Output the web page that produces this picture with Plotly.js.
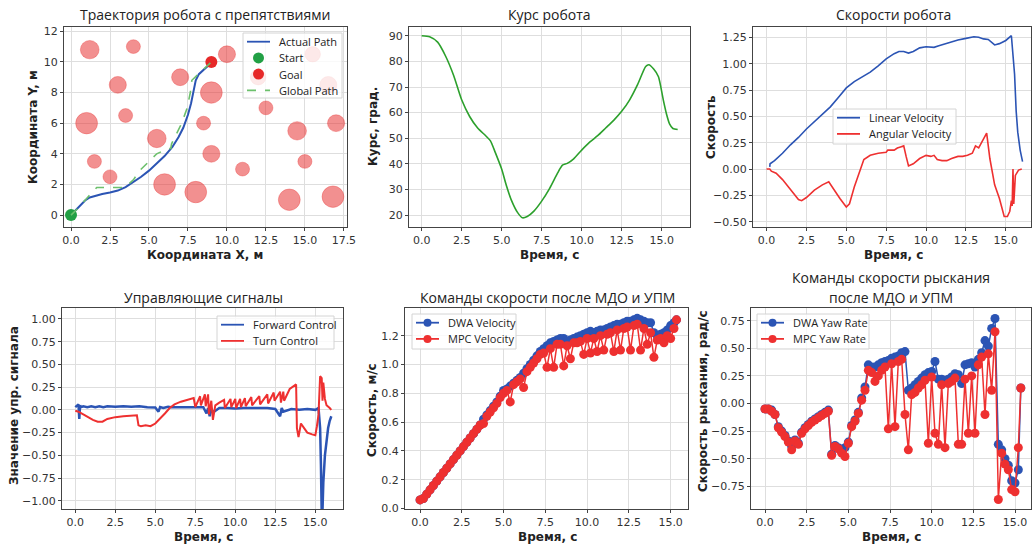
<!DOCTYPE html>
<html><head><meta charset="utf-8">
<script src="https://cdn.plot.ly/plotly-3.0.1.min.js"></script>
<style>html,body{margin:0;padding:0;background:#fff}#chart{width:1033px;height:546px}</style>
</head><body><div id="chart"></div>
<script>
// ---------- Panel 1: trajectory ----------
const obsX = [1.2, 4.0, 3.0, 3.5, 1.0, 1.5, 2.5, 5.5, 6.0, 7.0, 8.0, 9.0, 8.5, 9.0, 10.0, 11.0, 12.0, 12.5, 14.5, 15.0, 14.0, 15.5, 16.5, 17.0, 16.8];
const obsY = [10.8, 11.0, 8.5, 6.5, 6.0, 3.5, 2.5, 5.0, 2.0, 9.0, 1.5, 8.0, 6.0, 4.0, 10.5, 3.0, 9.0, 7.0, 5.5, 3.5, 1.0, 10.5, 8.5, 6.0, 1.2];
const obsR = [0.6, 0.45, 0.55, 0.45, 0.7, 0.45, 0.45, 0.6, 0.7, 0.55, 0.7, 0.7, 0.45, 0.55, 0.55, 0.45, 0.5, 0.45, 0.6, 0.45, 0.7, 0.5, 0.55, 0.55, 0.7];
const pathX = [0, 0.3, 0.6, 0.9, 1.2, 1.6, 2.0, 2.5, 3.0, 3.5, 4.0, 4.5, 5.0, 5.5, 6.0, 6.5, 6.9, 7.2, 7.5, 7.7, 7.85, 8.0, 8.2, 8.5, 8.8, 9.0];
const pathY = [0, 0.3, 0.65, 0.95, 1.15, 1.27, 1.37, 1.47, 1.6, 1.82, 2.15, 2.5, 2.9, 3.35, 3.85, 4.45, 5.1, 5.7, 6.55, 7.3, 8.1, 8.8, 9.2, 9.5, 9.75, 9.95];
const globX = [0, 0.5, 1.1, 1.65, 2.0, 2.7, 3.45, 4.0, 4.4, 5.0, 5.5, 6.25, 6.4, 6.45, 7.1, 7.45, 7.65, 7.75, 8.1, 8.5, 9.0];
const globY = [0, 0.5, 1.2, 1.8, 1.8, 1.8, 1.8, 2.3, 2.9, 3.5, 4.0, 4.35, 4.35, 4.65, 6.0, 7.0, 8.0, 8.8, 9.15, 9.55, 10.0];
const startXY = [0, 0];
const goalXY = [9, 10];

// ---------- Panel 2: heading ----------
const tHead = [0, 0.5, 1, 1.5, 2, 2.5, 3, 3.5, 4, 4.3, 4.6, 5, 5.3, 5.6, 6, 6.3, 6.6, 7, 7.5, 8, 8.5, 8.8, 9.1, 9.5, 10, 10.5, 11, 11.5, 12, 12.5, 13, 13.5, 14, 14.2, 14.5, 14.8, 15.1, 15.3, 15.5, 15.7, 16];
const heading = [90, 89.6, 87.5, 82, 74.5, 65, 58.5, 54, 51, 49, 44.5, 38, 31.5, 26, 21, 19, 19.5, 21.5, 25.5, 30.5, 36.5, 39.5, 40.2, 42, 45.4, 48.5, 51, 54, 57, 60.5, 65, 71, 78, 78.7, 77, 74, 65, 59.5, 55.5, 53.8, 53.4];

// ---------- Panel 3: velocities ----------
const tLin = [0.2, 0.22, 0.5, 1, 1.5, 2, 2.5, 3, 3.5, 4, 4.5, 5, 5.5, 6, 6.5, 7, 7.5, 8, 8.3, 8.6, 8.9, 9.2, 9.6, 10, 10.5, 10.8, 11.2, 11.6, 12, 12.5, 13, 13.3, 13.6, 13.9, 14.1, 14.3, 14.6, 15, 15.35, 15.45, 15.55, 15.65, 15.75, 15.9, 16.05];
const linVel = [0.02, 0.05, 0.08, 0.15, 0.23, 0.3, 0.38, 0.45, 0.52, 0.59, 0.68, 0.77, 0.83, 0.875, 0.92, 0.98, 1.045, 1.095, 1.115, 1.115, 1.1, 1.115, 1.15, 1.16, 1.155, 1.17, 1.19, 1.21, 1.225, 1.24, 1.255, 1.25, 1.235, 1.23, 1.2, 1.178, 1.19, 1.22, 1.265, 1.1, 0.9, 0.55, 0.35, 0.18, 0.07];
const tAng = [0, 0.2, 0.3, 0.6, 1, 1.5, 2, 2.2, 2.5, 3, 3.5, 3.9, 4.2, 4.6, 5, 5.2, 5.5, 5.8, 6.1, 6.5, 7, 7.5, 7.6, 8, 8.2, 8.4, 8.6, 8.75, 8.9, 9.2, 9.6, 10, 10.3, 10.5, 10.7, 11, 11.3, 11.6, 12, 12.3, 12.6, 12.9, 13.1, 13.3, 13.6, 13.8, 14, 14.3, 14.6, 14.9, 15.1, 15.25, 15.35, 15.4, 15.45, 15.5, 15.55, 15.6, 15.8, 16];
const angVel = [0, 0, -0.02, -0.04, -0.1, -0.2, -0.29, -0.3, -0.27, -0.2, -0.15, -0.12, -0.19, -0.28, -0.36, -0.33, -0.17, -0.03, 0.09, 0.13, 0.15, 0.16, 0.18, 0.18, 0.2, 0.21, 0.22, 0.12, 0.03, 0.05, 0.1, 0.13, 0.12, 0.13, 0.09, 0.08, 0.08, 0.1, 0.12, 0.12, 0.13, 0.15, 0.22, 0.2, 0.28, 0.34, 0.1, -0.15, -0.28, -0.45, -0.45, -0.4, -0.3, -0.35, 0.0, -0.33, -0.2, -0.06, -0.01, 0.0];

// ---------- Panel 4: control signals ----------
const tFwd = [0, 0.1, 0.2, 0.25, 0.3, 0.35, 0.5, 0.75, 1, 1.25, 1.5, 1.75, 2, 2.5, 3, 3.5, 4, 4.5, 5, 5.2, 5.3, 5.5, 5.8, 6, 6.5, 7, 7.5, 8, 8.2, 8.3, 8.4, 8.5, 8.6, 9, 9.5, 10, 10.5, 11, 11.5, 12, 12.5, 12.8, 12.9, 13, 13.5, 14, 14.5, 15, 15.2, 15.3, 15.35, 15.4, 15.45, 15.5, 15.6, 15.7, 15.8, 15.9, 16.0];
const fwdCtrl = [0.03, 0.05, 0.06, -0.1, 0.05, 0.03, 0.04, 0.03, 0.04, 0.03, 0.04, 0.03, 0.04, 0.035, 0.04, 0.035, 0.04, 0.03, 0.025, -0.02, 0.03, 0.02, 0.035, 0.03, 0.03, 0.035, 0.03, 0.03, -0.04, 0.02, -0.07, 0.02, -0.03, 0.02, 0.02, 0.015, 0.02, 0.02, 0.015, 0.02, 0.01, -0.07, 0.02, -0.02, 0.01, 0.0, 0.01, 0.0, 0.02, -0.2, -0.6, -1.15, -1.1, -0.8, -0.5, -0.32, -0.2, -0.12, -0.07];
const tTurn = [0, 0.2, 0.5, 0.8, 1.1, 1.4, 1.7, 2.0, 2.5, 3.0, 3.5, 3.85, 3.95, 4.1, 4.4, 4.7, 5.0, 5.3, 5.6, 5.9, 6.2, 6.6, 7.0, 7.4, 7.5, 7.8, 7.85, 8.1, 8.15, 8.3, 8.35, 8.5, 8.6, 8.75, 9.0, 9.3, 9.35, 9.7, 9.75, 10.0, 10.05, 10.3, 10.35, 10.6, 10.65, 11.0, 11.05, 11.5, 11.55, 12.0, 12.05, 12.4, 12.45, 12.8, 12.85, 13.0, 13.05, 13.4, 13.8, 13.85, 13.95, 14.1, 14.3, 14.5, 14.8, 15.0, 15.1, 15.2, 15.3, 15.4, 15.45, 15.5, 15.6, 15.7, 15.9, 16.0];
const turnCtrl = [-0.01, -0.02, -0.05, -0.08, -0.11, -0.13, -0.13, -0.1, -0.08, -0.07, -0.06, -0.06, -0.17, -0.18, -0.17, -0.18, -0.15, -0.1, -0.04, 0.02, 0.06, 0.09, 0.11, 0.13, 0.03, 0.15, 0.05, 0.17, 0.04, 0.17, -0.05, 0.1, -0.11, 0.05, 0.08, 0.11, 0.02, 0.12, 0.03, 0.12, 0.02, 0.12, 0.03, 0.13, 0.04, 0.14, 0.05, 0.15, 0.06, 0.17, 0.07, 0.19, 0.1, 0.2, 0.08, 0.2, 0.1, 0.23, 0.28, -0.2, -0.3, -0.15, -0.2, -0.25, -0.27, -0.28, -0.18, -0.05, 0.37, 0.35, 0.1, 0.3, 0.12, 0.05, 0.02, 0.0];

// ---------- Panels 5 & 6: commands ----------
const tCmd = [0, 0.2, 0.4, 0.6, 0.8, 1.0, 1.2, 1.4, 1.6, 1.8, 2.0, 2.2, 2.4, 2.6, 2.8, 3.0, 3.2, 3.4, 3.6, 3.8, 4.0, 4.2, 4.4, 4.6, 4.8, 5.0, 5.2, 5.4, 5.6, 5.8, 6.0, 6.2, 6.4, 6.6, 6.8, 7.0, 7.2, 7.4, 7.6, 7.8, 8.0, 8.2, 8.4, 8.6, 8.8, 9.0, 9.2, 9.4, 9.6, 9.8, 10.0, 10.2, 10.4, 10.6, 10.8, 11.0, 11.2, 11.4, 11.6, 11.8, 12.0, 12.2, 12.4, 12.6, 12.8, 13.0, 13.2, 13.4, 13.6, 13.8, 14.0, 14.2, 14.4, 14.6, 14.8, 15.0, 15.2, 15.35];
const dwaVel = [0.06, 0.07, 0.1, 0.13, 0.16, 0.19, 0.22, 0.25, 0.28, 0.31, 0.34, 0.37, 0.40, 0.43, 0.46, 0.49, 0.52, 0.55, 0.58, 0.62, 0.65, 0.68, 0.71, 0.74, 0.78, 0.82, 0.83, 0.85, 0.87, 0.89, 0.91, 0.94, 0.97, 1.0, 1.03, 1.06, 1.09, 1.11, 1.13, 1.15, 1.16, 1.17, 1.18, 1.18, 1.16, 1.17, 1.18, 1.19, 1.2, 1.21, 1.22, 1.23, 1.22, 1.23, 1.24, 1.24, 1.25, 1.26, 1.27, 1.28, 1.28, 1.29, 1.3, 1.3, 1.31, 1.32, 1.31, 1.3, 1.29, 1.29, 1.22, 1.2, 1.21, 1.22, 1.24, 1.27, 1.29, 1.31];
const mpcVel = [0.06, 0.07, 0.1, 0.13, 0.16, 0.19, 0.22, 0.25, 0.28, 0.31, 0.34, 0.37, 0.40, 0.43, 0.46, 0.49, 0.52, 0.55, 0.58, 0.59, 0.64, 0.67, 0.70, 0.73, 0.77, 0.80, 0.82, 0.74, 0.86, 0.88, 0.90, 0.84, 0.95, 0.98, 1.01, 1.04, 1.07, 1.08, 0.98, 1.11, 0.98, 1.14, 1.14, 0.99, 1.13, 1.04, 1.15, 1.15, 1.16, 1.07, 1.18, 1.08, 1.18, 1.09, 1.2, 1.1, 1.21, 1.22, 1.09, 1.24, 1.1, 1.25, 1.26, 1.1, 1.27, 1.28, 1.1, 1.25, 1.14, 1.22, 1.05, 1.17, 1.18, 1.15, 1.2, 1.18, 1.25, 1.31];
const dwaYaw = [-0.05, -0.05, -0.06, -0.1, -0.21, -0.25, -0.29, -0.34, -0.39, -0.33, -0.36, -0.26, -0.22, -0.19, -0.16, -0.14, -0.12, -0.1, -0.08, -0.06, -0.46, -0.38, -0.4, -0.43, -0.4, -0.35, -0.2, -0.15, -0.08, 0.05, 0.15, 0.35, 0.33, 0.33, 0.35, 0.37, 0.38, 0.39, 0.41, 0.42, 0.43, 0.46, 0.47, 0.12, 0.14, 0.17, 0.2, 0.23, 0.26, 0.28, 0.29, 0.38, 0.22, 0.22, 0.21, 0.22, 0.24, 0.27, 0.26, 0.18, 0.35, 0.36, 0.37, 0.33, 0.4, 0.46, 0.57, 0.52, 0.68, 0.77, -0.37, -0.42, -0.5, -0.56, -0.7, -0.72, -0.6, 0.14];
const mpcYaw = [-0.05, -0.05, -0.07, -0.1, -0.22, -0.26, -0.3, -0.35, -0.42, -0.34, -0.37, -0.27, -0.23, -0.2, -0.17, -0.15, -0.13, -0.11, -0.09, -0.07, -0.47, -0.39, -0.41, -0.45, -0.48, -0.36, -0.21, -0.16, -0.09, 0.03, 0.12, 0.3, 0.28, 0.2, 0.25, 0.3, 0.33, -0.23, 0.36, -0.21, 0.38, 0.4, -0.1, -0.42, 0.08, 0.1, 0.14, 0.17, 0.21, -0.36, 0.24, -0.27, -0.37, 0.17, -0.4, 0.18, 0.2, 0.23, -0.37, -0.37, 0.22, -0.27, 0.25, -0.27, 0.35, 0.42, -0.1, 0.45, 0.12, 0.65, -0.87, -0.45, -0.55, -0.6, -0.78, -0.8, -0.4, 0.14];

// ---------- styling ----------
const BLUE = '#2b54b4', RED = '#ee3030', GREEN = '#2ca02c';
const FONT = 'DejaVu Sans', TFONT = 'Open Sans';
const W = 1033, H = 546;
const px = v => v / W, py = v => 1 - v / H;

function axis(dom, range, dtick, fmt, anchor) {
  return {
    domain: dom, range: range, dtick: dtick, tick0: 0, tickformat: fmt, anchor: anchor,
    showline: true, mirror: true, linecolor: '#444', linewidth: 1,
    ticks: 'outside', ticklen: 3, tickcolor: '#444',
    showgrid: true, gridcolor: '#dedede', gridwidth: 1, zeroline: false,
    tickfont: {family: FONT, size: 11, color: '#333'}, fixedrange: true
  };
}
const yTop = [py(227), py(27)];
const yBot = [py(509), py(308)];

const T = {
  path: {x: pathX, y: pathY, type: 'scatter', mode: 'lines', name: 'Actual Path', line: {color: BLUE, width: 2}, xaxis: 'x', yaxis: 'y'},
  start: {x: [startXY[0]], y: [startXY[1]], type: 'scatter', mode: 'markers', name: 'Start', marker: {color: '#22a045', size: 12}, xaxis: 'x', yaxis: 'y'},
  goal: {x: [goalXY[0]], y: [goalXY[1]], type: 'scatter', mode: 'markers', name: 'Goal', marker: {color: '#e62828', size: 12}, xaxis: 'x', yaxis: 'y'},
  glob: {x: globX, y: globY, type: 'scatter', mode: 'lines', name: 'Global Path', line: {color: '#6cc06c', width: 1.6, dash: 'dash'}, xaxis: 'x', yaxis: 'y'},
  head: {x: tHead, y: heading, type: 'scatter', mode: 'lines', name: 'Heading', line: {color: GREEN, width: 1.6, shape: 'spline', smoothing: 0.6}, xaxis: 'x2', yaxis: 'y2'},
  lin: {x: tLin, y: linVel, type: 'scatter', mode: 'lines', name: 'Linear Velocity', line: {color: BLUE, width: 1.6}, xaxis: 'x3', yaxis: 'y3'},
  ang: {x: tAng, y: angVel, type: 'scatter', mode: 'lines', name: 'Angular Velocity', line: {color: RED, width: 1.6}, xaxis: 'x3', yaxis: 'y3'},
  fwd: {x: tFwd, y: fwdCtrl, type: 'scatter', mode: 'lines', name: 'Forward Control', line: {color: BLUE, width: 2.5}, xaxis: 'x4', yaxis: 'y4'},
  turn: {x: tTurn, y: turnCtrl, type: 'scatter', mode: 'lines', name: 'Turn Control', line: {color: RED, width: 2}, xaxis: 'x4', yaxis: 'y4'},
  dv: {x: tCmd, y: dwaVel, type: 'scatter', mode: 'lines+markers', name: 'DWA Velocity', line: {color: BLUE, width: 1.5}, marker: {color: BLUE, size: 9}, xaxis: 'x5', yaxis: 'y5'},
  mv: {x: tCmd, y: mpcVel, type: 'scatter', mode: 'lines+markers', name: 'MPC Velocity', line: {color: RED, width: 1.5}, marker: {color: RED, size: 9}, xaxis: 'x5', yaxis: 'y5'},
  dy: {x: tCmd, y: dwaYaw, type: 'scatter', mode: 'lines+markers', name: 'DWA Yaw Rate', line: {color: BLUE, width: 1.5}, marker: {color: BLUE, size: 9}, xaxis: 'x6', yaxis: 'y6'},
  my: {x: tCmd, y: mpcYaw, type: 'scatter', mode: 'lines+markers', name: 'MPC Yaw Rate', line: {color: RED, width: 1.5}, marker: {color: RED, size: 9}, xaxis: 'x6', yaxis: 'y6'}
};
const traces = Object.values(T).map(t => Object.assign(t, {showlegend: false}));

const shapes = obsX.map((cx, i) => ({
  type: 'circle', xref: 'x', yref: 'y', layer: 'between',
  x0: cx - obsR[i], x1: cx + obsR[i], y0: obsY[i] - obsR[i], y1: obsY[i] + obsR[i],
  fillcolor: 'rgba(232,52,52,0.55)', line: {color: 'rgba(232,52,52,0.35)', width: 1}
}));

const ann = [];
function txt(x, y, s, size, bold, angle, family, anchor) {
  ann.push({xref: 'paper', yref: 'paper', x: px(x), y: py(y), xanchor: anchor || 'center', yanchor: 'middle',
    text: bold ? '<b>' + s + '</b>' : s, showarrow: false, textangle: angle || 0,
    font: {family: family || FONT, size: size, color: '#222'}});
}

// matplotlib-style legend boxes built from the traces' own names and styles
function legendBox(L, Tp, R, B, items) {
  shapes.push({type: 'rect', xref: 'paper', yref: 'paper', layer: 'above', x0: px(L), x1: px(R), y0: py(B), y1: py(Tp),
    fillcolor: 'rgba(255,255,255,0.8)', line: {color: '#d4d4d4', width: 1}});
  items.forEach((tr, i) => {
    const cy = Tp + 8.7 + 16.2 * i;
    const hasLine = tr.mode.indexOf('lines') >= 0, hasMk = tr.mode.indexOf('markers') >= 0;
    const col = hasLine ? tr.line.color : tr.marker.color;
    if (hasLine) shapes.push({type: 'line', xref: 'paper', yref: 'paper', layer: 'above',
      x0: px(L + 4), x1: px(L + 27), y0: py(cy), y1: py(cy), line: {color: col, width: 1.8, dash: tr.line.dash || 'solid'}});
    if (hasMk) {
      const r = hasLine ? 4 : 5.5;
      shapes.push({type: 'circle', xref: 'paper', yref: 'paper', layer: 'above',
        x0: px(L + 15.5 - r), x1: px(L + 15.5 + r), y0: py(cy + r), y1: py(cy - r), fillcolor: tr.marker.color, line: {width: 0}});
    }
    txt(L + 34, cy, tr.name, 11, false, 0, TFONT, 'left');
  });
}
legendBox(243, 33, 342, 98, [T.path, T.start, T.goal, T.glob]);
legendBox(833, 109, 956, 144, [T.lin, T.ang]);
legendBox(217, 316, 334, 349, [T.fwd, T.turn]);
legendBox(412, 314, 516, 349, [T.dv, T.mv]);
legendBox(757, 314, 869, 349, [T.dy, T.my]);

// titles
txt(205, 14, 'Траектория робота с препятствиями', 14, false, 0, TFONT);
txt(549, 14, 'Курс робота', 14, false, 0, TFONT);
txt(893, 14, 'Скорости робота', 14, false, 0, TFONT);
txt(203, 297, 'Управляющие сигналы', 14, false, 0, TFONT);
txt(547, 297, 'Команды скорости после МДО и УПМ', 14, false, 0, TFONT);
txt(891, 277, 'Команды скорости рыскания', 14, false, 0, TFONT);
txt(891, 297, 'после МДО и УПМ', 14, false, 0, TFONT);
// x labels
txt(205, 255, 'Координата X, м', 12, true);
txt(549, 255, 'Время, с', 12, true);
txt(893, 255, 'Время, с', 12, true);
txt(203, 537, 'Время, с', 12, true);
txt(547, 537, 'Время, с', 12, true);
txt(891, 537, 'Время, с', 12, true);
// y labels
txt(33, 127, 'Координата Y, м', 12, true, -90);
txt(373, 127, 'Курс, град.', 12, true, -90);
txt(711, 127, 'Скорость', 12, true, -90);
txt(14, 406, 'Значение упр. сигнала', 12, true, -90);
txt(372, 410, 'Скорость, м/с', 12, true, -90);
txt(703, 401, 'Скорость рыскания, рад/с', 12, true, -90);

const layout = {
  width: W, height: H, margin: {l: 0, r: 0, t: 0, b: 0}, paper_bgcolor: '#fff', plot_bgcolor: '#fff',
  font: {family: FONT, size: 11, color: '#222'}, hovermode: false, showlegend: false,
  xaxis: axis([px(64), px(347)], [-0.45, 17.7], 2.5, '.1f', 'y'),
  yaxis: axis(yTop, [-0.78, 12.28], 2, 'd', 'x'),
  xaxis2: axis([px(409), px(690)], [-0.79, 16.77], 2.5, '.1f', 'y2'),
  yaxis2: axis(yTop, [15.4, 93.4], 10, 'd', 'x2'),
  xaxis3: axis([px(753), px(1031)], [-0.85, 16.58], 2.5, '.1f', 'y3'),
  yaxis3: axis([py(226.7), py(27.3)], [-0.547, 1.345], 0.25, '.2f', 'x3'),
  xaxis4: axis([px(62), px(343)], [-0.83, 16.73], 2.5, '.1f', 'y4'),
  yaxis4: axis(yBot, [-1.09, 1.12], 0.25, '.2f', 'x4'),
  xaxis5: axis([px(405), px(688)], [-0.9, 16.04], 2.5, '.1f', 'y5'),
  yaxis5: axis(yBot, [-0.003, 1.392], 0.2, '.1f', 'x5'),
  xaxis6: axis([px(751), px(1031)], [-0.84, 15.96], 2.5, '.1f', 'y6'),
  yaxis6: axis(yBot, [-0.956, 0.865], 0.25, '.2f', 'x6'),
  shapes: shapes,
  annotations: ann
};

Plotly.newPlot('chart', traces, layout, {staticPlot: true, displayModeBar: false});
</script>
</body></html>
